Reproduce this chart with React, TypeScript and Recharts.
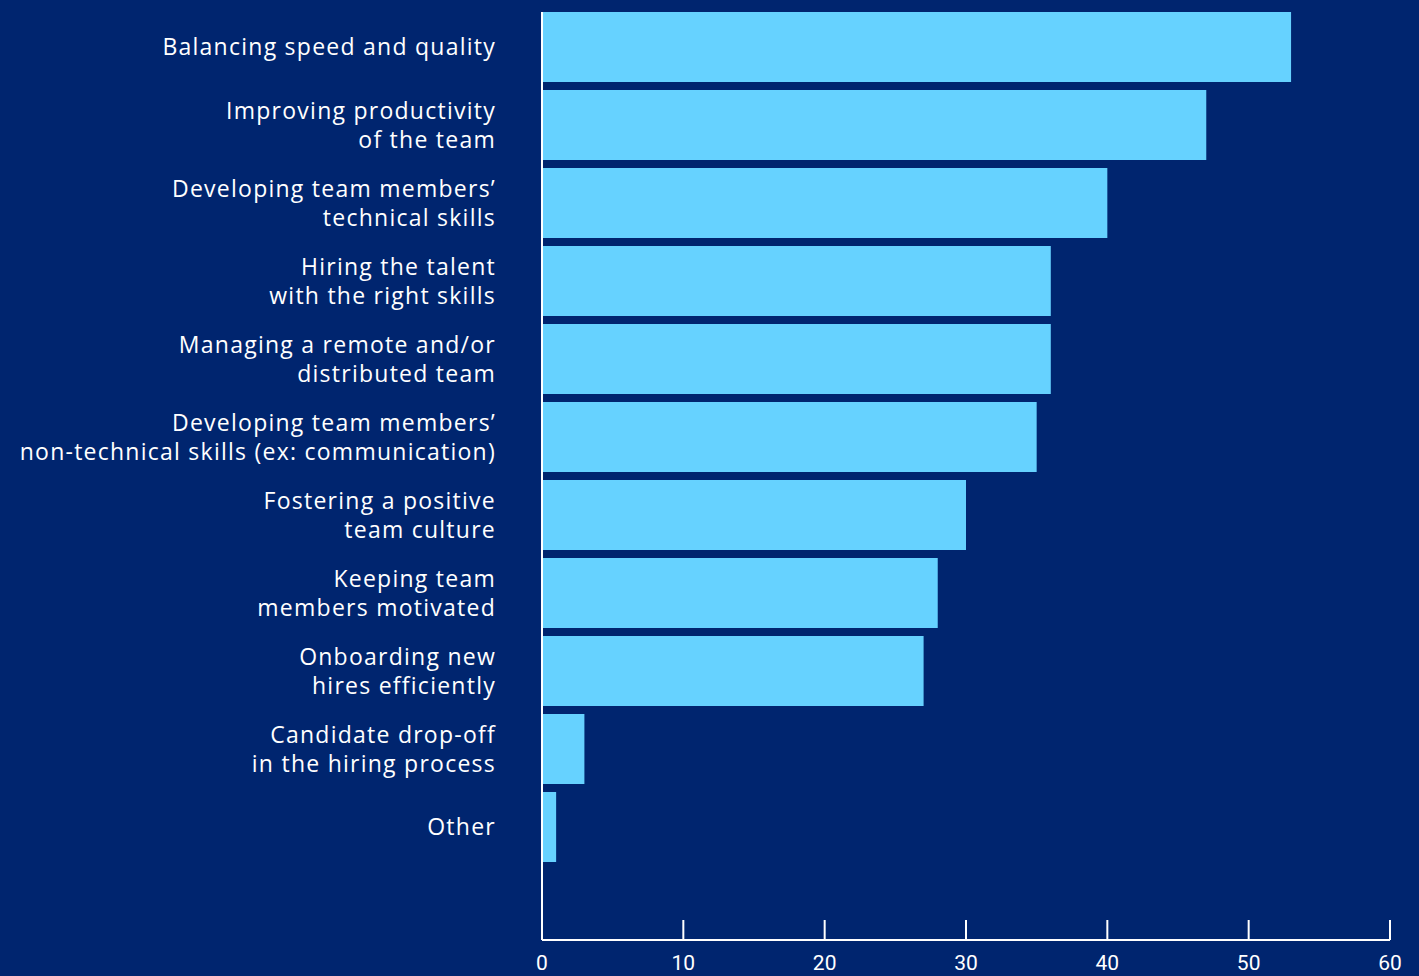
import { Bar, BarChart, XAxis, YAxis } from "recharts";

const categories = [
  "Balancing speed and quality",
  "Improving productivity\nof the team",
  "Developing team members’\ntechnical skills",
  "Hiring the talent\nwith the right skills",
  "Managing a remote and/or\ndistributed team",
  "Developing team members’\nnon-technical skills (ex: communication)",
  "Fostering a positive\nteam culture",
  "Keeping team\nmembers motivated",
  "Onboarding new\nhires efficiently",
  "Candidate drop-off\nin the hiring process",
  "Other",
];

const values = [53, 47, 40, 36, 36, 35, 30, 28, 27, 3, 1];

const xTicks = [0, 10, 20, 30, 40, 50, 60];

const data = categories.map((label, i) => ({ label, value: values[i] }));

const BG = "#00256f";
const BAR = "#66d2ff";
const LABEL_FONT = "'Open Sans', sans-serif";

/**
 * Multi-line category label, right aligned
 */
const CategoryTick = ({ x, y, payload }: any) => {
  const lines = String(payload.value).split("\n");
  const lineHeight = 29;
  const start = -((lines.length - 1) * lineHeight) / 2;
  return (
    <text x={x} y={y} textAnchor="end" fill="#ffffff" fontFamily={LABEL_FONT} fontSize={23} letterSpacing={1.25}>
      {lines.map((line, i) => (
        <tspan key={i} x={x} y={y + start + i * lineHeight} dy="0.36em">
          {line}
        </tspan>
      ))}
    </text>
  );
};

/**
 * Value tick: short line pointing up from the axis, number below
 */
const ValueTick = ({ x, y, payload }: any) => (
  <g>
    {payload.value !== 0 && <line x1={x} x2={x} y1={y - 20} y2={y} stroke="#ffffff" strokeWidth={2} />}
    <text x={x} y={y + 30} textAnchor="middle" fill="#ffffff" fontFamily="Roboto, sans-serif" fontSize={21}>
      {payload.value}
    </text>
  </g>
);

const App = () => {
  return (
    <div style={{ position: "absolute", left: 0, top: 0, width: 1419, height: 976, background: BG }}>
      <BarChart
        width={1419}
        height={976}
        data={data}
        layout="vertical"
        margin={{ top: 12, right: 29, bottom: 0, left: 0 }}
        barCategoryGap={4}
      >
        <XAxis
          type="number"
          domain={[0, 60]}
          ticks={xTicks}
          height={36}
          axisLine={{ stroke: "#ffffff", strokeWidth: 2 }}
          tickLine={false}
          tickSize={0}
          tickMargin={0}
          tick={<ValueTick />}
          interval={0}
        />
        <YAxis
          type="category"
          dataKey="label"
          width={542}
          axisLine={{ stroke: "#ffffff", strokeWidth: 2 }}
          tickLine={false}
          tickSize={0}
          tickMargin={46}
          tick={<CategoryTick />}
          interval={0}
          padding={{ top: -4, bottom: 74 }}
        />
        <Bar dataKey="value" fill={BAR} isAnimationActive={false} />
      </BarChart>
    </div>
  );
};

export default App;
